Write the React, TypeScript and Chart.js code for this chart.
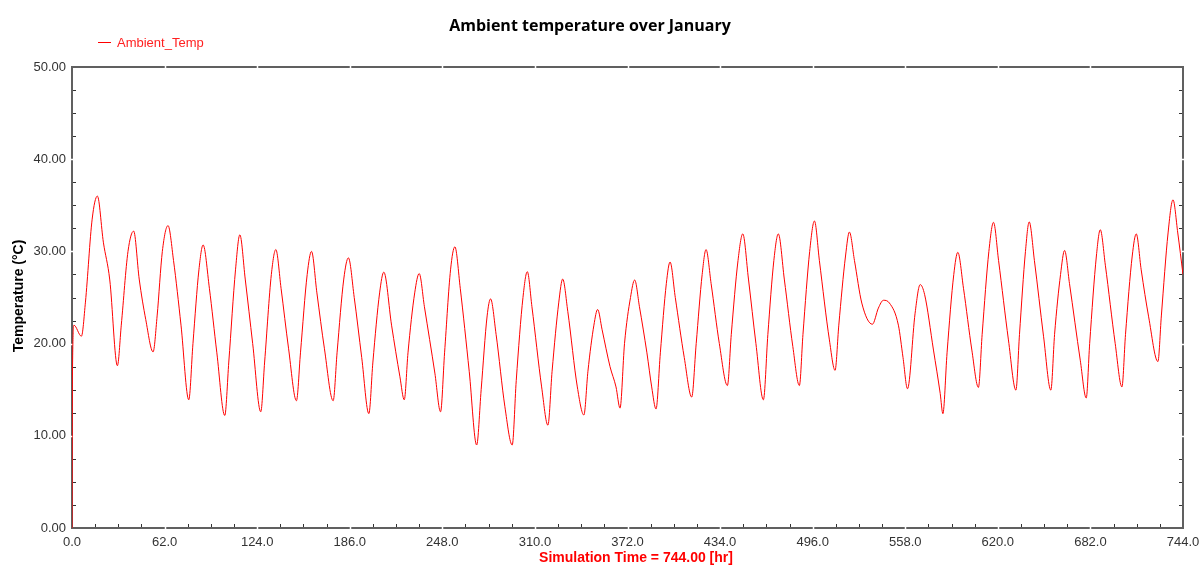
import React, { useEffect, useRef } from "react";
import { Chart, registerables } from "chart.js";

Chart.register(...registerables);

const chartTitle = "Ambient temperature over January";
const seriesName = "Ambient_Temp";
const xTitle = "Simulation Time = 744.00 [hr]";
const yTitle = "Temperature (°C)";

const xTicks = [0, 62, 124, 186, 248, 310, 372, 434, 496, 558, 620, 682, 744];
const yTicks = [0, 10, 20, 30, 40, 50];

const hours = [
  0, 0.3, 1.3, 6.3, 9, 13.5, 17.0, 21, 25.3, 30.4,
  33, 37.5, 41.3, 45, 49.4, 54.3, 57, 60.5, 64.3, 68,
  73, 78.2, 81, 85, 87.8, 92, 97, 102.3, 105, 109.5,
  112.4, 116, 121, 126.4, 129, 133.5, 136.5, 140, 145, 150.3,
  153, 157.5, 160.4, 164, 169, 174.9, 177.5, 182, 185.1, 189,
  194, 198.8, 201.5, 206, 208.8, 214, 219.6, 222.5, 225, 229.5,
  232.5, 236, 243, 246.8, 249.5, 253.5, 256.4, 260, 266, 271,
  274, 278, 280.3, 284, 289.9, 294.8, 297.5, 302, 304.9, 308,
  314.5, 318.7, 321.5, 326, 328.6, 332, 338.4, 342.8, 345.5, 349.5,
  352, 355, 360.3, 364.3, 367, 370, 374, 376.8, 380, 385,
  388.2, 391.1, 394, 398, 400.5, 404, 410, 415, 418, 422,
  424.6, 428, 433.5, 438.9, 441.5, 446, 449.2, 453, 458, 463,
  466, 470, 473, 477, 482.7, 487.1, 489.5, 494, 497.2, 500.5,
  507.2, 511, 513.5, 518, 520.6, 524, 528.9, 536, 540, 543.4,
  547.4, 553.4, 556.5, 559.5, 564.6, 568, 571, 576.9, 581.4, 583.2,
  586, 590.5, 593.2, 597, 602.6, 607, 609.5, 614, 617.1, 620.5,
  627.1, 632.1, 634.5, 638.5, 641, 644.5, 650.6, 655.5, 658, 662,
  664.7, 668, 675.2, 679.2, 681.5, 686, 688.6, 692, 698.6, 703.1,
  705.5, 710, 712.7, 716, 721, 727.2, 729.5, 734, 737.3, 740.5,
  744,
];

const temps = [
  0, 16.5, 22.0, 20.8, 24.5, 33.5, 36.0, 31, 26.9, 17.6,
  22, 30.0, 32.2, 27, 22.6, 19.1, 23, 30, 32.8, 29,
  22, 13.9, 20, 28, 30.7, 26, 19, 12.2, 18, 28,
  31.8, 27, 20, 12.6, 18, 27.5, 30.2, 26, 19.5, 13.8,
  19, 27.5, 30.0, 25.5, 19.5, 13.8, 19, 27, 29.3, 25,
  18.5, 12.4, 18, 25.5, 27.75, 22, 16.4, 13.9, 19, 25.5,
  27.6, 24, 16.8, 12.6, 19, 28, 30.5, 26, 17, 9.0,
  15, 23, 24.85, 21, 13.15, 9.0, 16, 25, 27.8, 24,
  15.3, 11.15, 17, 24.5, 27.0, 23.5, 15.3, 12.25, 17, 22,
  23.7, 21.5, 17.5, 15.3, 13.0, 20.0, 25, 26.9, 24, 19,
  15.3, 12.9, 19, 26.5, 28.85, 25, 18.5, 14.2, 20, 27.5,
  30.2, 26.5, 20.0, 15.45, 21, 29, 31.9, 27, 20, 13.9,
  21, 29, 31.9, 27, 19.7, 15.45, 21, 30, 33.3, 29,
  20.4, 17.1, 22, 29.5, 32.1, 29, 24.4, 22.1, 23.85, 24.7,
  24.4, 22.0, 18.5, 15.1, 23.3, 26.4, 25.3, 19.3, 14.6, 12.4,
  19, 27.5, 29.9, 26, 19.3, 15.25, 21, 30, 33.15, 29,
  20.4, 14.95, 21, 30, 33.2, 29, 20.8, 14.95, 21, 27.5,
  30.1, 26.5, 18.2, 14.1, 20, 29.5, 32.35, 28.5, 20.0, 15.3,
  21, 29.5, 31.9, 28, 22.9, 18.05, 23, 32, 35.6, 32,
  27.5,
];

const LABEL_FONT = '"Liberation Sans", Arial, sans-serif';

const decor = {
  id: "decor",
  beforeDatasetsDraw(chart: any) {
    const { ctx, chartArea } = chart;
    const { left, right, top, bottom } = chartArea;
    const xs = chart.scales.x;
    const ys = chart.scales.y;
    ctx.save();
    ctx.strokeStyle = "#606060";
    ctx.lineWidth = 2;
    ctx.strokeRect(left, top, right - left, bottom - top);
    ctx.strokeStyle = "#ffffff";
    ctx.lineWidth = 1.5;
    xTicks.slice(1, -1).forEach((v) => {
      const px = Math.round(xs.getPixelForValue(v)) + 0.5;
      ctx.beginPath();
      ctx.moveTo(px, top - 2);
      ctx.lineTo(px, top + 2);
      ctx.moveTo(px, bottom - 2);
      ctx.lineTo(px, bottom + 2);
      ctx.stroke();
    });
    yTicks.slice(1, -1).forEach((v) => {
      const py = Math.round(ys.getPixelForValue(v)) + 0.5;
      ctx.beginPath();
      ctx.moveTo(left - 2, py);
      ctx.lineTo(left + 2, py);
      ctx.moveTo(right - 2, py);
      ctx.lineTo(right + 2, py);
      ctx.stroke();
    });
    ctx.strokeStyle = "#333333";
    ctx.lineWidth = 1;
    const xStep = (xTicks[1] - xTicks[0]) / 4;
    for (let i = 1; i < (xTicks.length - 1) * 4; i++) {
      if (i % 4 === 0) continue;
      const px = Math.round(xs.getPixelForValue(i * xStep)) + 0.5;
      ctx.beginPath();
      ctx.moveTo(px, bottom - 1);
      ctx.lineTo(px, bottom - 4);
      ctx.stroke();
    }
    const yStep = (yTicks[1] - yTicks[0]) / 4;
    for (let i = 1; i < (yTicks.length - 1) * 4; i++) {
      if (i % 4 === 0) continue;
      const py = Math.round(ys.getPixelForValue(i * yStep)) + 0.5;
      ctx.beginPath();
      ctx.moveTo(left + 1, py);
      ctx.lineTo(left + 4, py);
      ctx.moveTo(right - 1, py);
      ctx.lineTo(right - 4, py);
      ctx.stroke();
    }
    ctx.restore();
  },
  afterDraw(chart: any) {
    const { ctx } = chart;
    ctx.save();
    ctx.fillStyle = "#000000";
    ctx.font = 'bold 16px "Open Sans", sans-serif';
    ctx.textAlign = "center";
    ctx.textBaseline = "alphabetic";
    ctx.fillText(chartTitle, 590, 31);
    ctx.strokeStyle = "#ff0000";
    ctx.lineWidth = 1;
    ctx.beginPath();
    ctx.moveTo(98, 42.5);
    ctx.lineTo(111, 42.5);
    ctx.stroke();
    ctx.fillStyle = "#ff2020";
    ctx.font = "13px " + LABEL_FONT;
    ctx.textAlign = "left";
    ctx.fillText(seriesName, 117, 47);
    ctx.fillStyle = "#ff0000";
    ctx.font = "bold 14px " + LABEL_FONT;
    ctx.textAlign = "center";
    ctx.fillText(xTitle, 636, 562);
    ctx.fillStyle = "#000000";
    ctx.font = "bold 14px " + LABEL_FONT;
    ctx.translate(23, 296);
    ctx.rotate(-Math.PI / 2);
    ctx.fillText(yTitle, 0, 0);
    ctx.restore();
  },
};

export default function App() {
  const ref = useRef<HTMLCanvasElement | null>(null);
  useEffect(() => {
    if (!ref.current) return;
    const points = hours.map((h, i) => ({ x: h, y: temps[i] }));
    const chart = new Chart(ref.current, {
      type: "line",
      data: {
        datasets: [
          {
            label: seriesName,
            data: points,
            borderColor: "#ff0000",
            borderWidth: 1,
            pointRadius: 0,
            fill: false,
            cubicInterpolationMode: "monotone",
          },
        ],
      },
      options: {
        responsive: false,
        animation: false,
        devicePixelRatio: 1,
        layout: { padding: { top: 67, right: 17, left: 0, bottom: 0 } },
        plugins: {
          legend: { display: false },
          title: { display: false },
          tooltip: { enabled: false },
        },
        scales: {
          x: {
            type: "linear",
            min: 0,
            max: 744,
            afterBuildTicks: (s: any) => {
              s.ticks = xTicks.map((v) => ({ value: v }));
            },
            afterFit: (s: any) => {
              s.height = 39;
              s.paddingLeft = 0;
              s.paddingRight = 0;
            },
            grid: { display: false, drawTicks: false },
            border: { display: false },
            ticks: {
              padding: 7,
              color: "#333333",
              font: { family: LABEL_FONT, size: 13 },
              maxRotation: 0,
              autoSkip: false,
              callback: (v: any) => Number(v).toFixed(1),
            },
          },
          y: {
            type: "linear",
            min: 0,
            max: 50,
            afterBuildTicks: (s: any) => {
              s.ticks = yTicks.map((v) => ({ value: v }));
            },
            afterFit: (s: any) => {
              s.width = 72;
              s.paddingTop = 0;
              s.paddingBottom = 0;
            },
            grid: { display: false, drawTicks: false },
            border: { display: false },
            ticks: {
              padding: 6,
              color: "#333333",
              font: { family: LABEL_FONT, size: 13 },
              autoSkip: false,
              callback: (v: any) => Number(v).toFixed(2),
            },
          },
        },
      },
      plugins: [decor],
    });
    return () => chart.destroy();
  }, []);
  return (
    <div style={{ position: "absolute", left: 0, top: 0, width: 1200, height: 567, background: "#ffffff" }}>
      <canvas ref={ref} width={1200} height={567} />
    </div>
  );
}
